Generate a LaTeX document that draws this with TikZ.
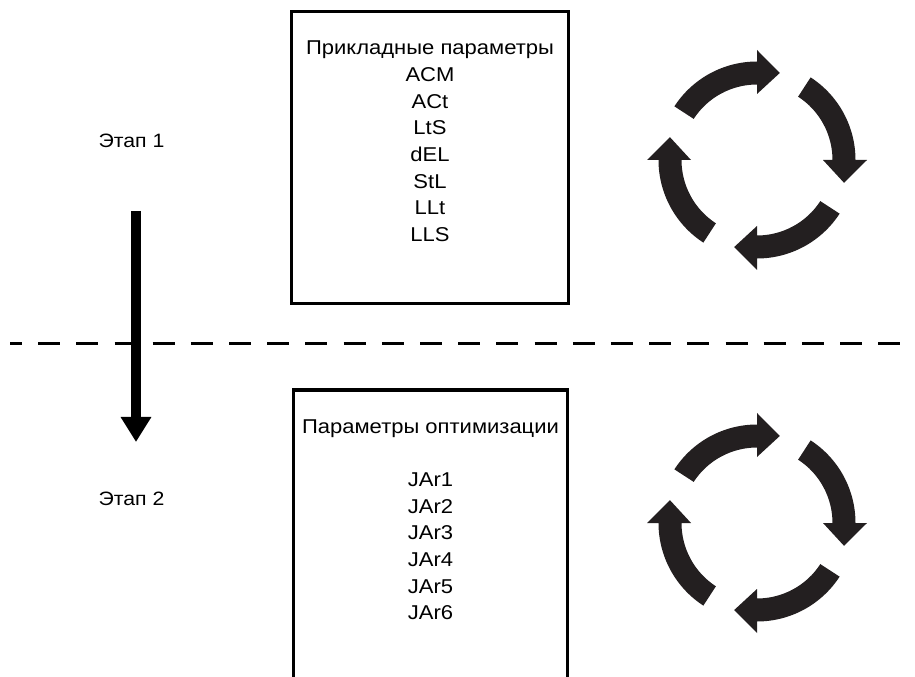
\documentclass[tikz,border=0pt]{standalone}
\usepackage{fontspec}
\setmainfont{Liberation Sans}[FakeStretch=1.1]
\usetikzlibrary{arrows.meta, positioning}

\tikzset{
  parambox/.style={draw=black, line width=2.5pt, inner sep=0pt, outer sep=0pt},
  paramtext/.style={font=\fontsize{15pt}{20pt}\selectfont, align=center, inner sep=0pt},
  stagelabel/.style={font=\fontsize{14.5pt}{20pt}\selectfont, inner sep=0pt, anchor=base},
  stageflow/.style={line width=7.5pt, -{Triangle[width=21.75pt, length=18.75pt]}},
  divider/.style={line width=2.25pt, dash pattern=on 16.5pt off 12.14pt, dash phase=7.5pt}
}

\begin{document}
\begin{tikzpicture}[x=0.75pt, y=0.75pt]

  % Colour of the cycle arrows
  \definecolor{cycleink}{HTML}{231F20}

  \useasboundingbox (0,0) rectangle (915,676);
  \clip (0,0) rectangle (915,676);

  % Divider between the stages
  \draw[divider] (10,332) -- (900,332);

  % Stage labels
  \node[stagelabel] (stageone) at (131.5,528) {Этап 1};
  \node[stagelabel] (stagetwo) at (131.5,171) {Этап 2};

  % Flow from stage 1 to stage 2
  \coordinate (flowtop) at (136,465);
  \coordinate (flowbot) at (136,234);
  \draw[stageflow] (flowtop) -- (flowbot);

  % --- Boxes ---
  % Applied parameters
  \node[parambox, minimum width=207.5pt, minimum height=218.75pt]
  (appbox) at (430,518.5) {};
  \node[paramtext, below=21.75pt of appbox.north] (apptext)
  {Прикладные параметры\\ACM\\ACt\\LtS\\dEL\\StL\\LLt\\LLS};

  % Optimisation parameters
  \node[parambox, minimum width=205.7pt, minimum height=247.5pt, anchor=north]
  (optbox) at (430.5,286) {};
  \node[paramtext, below=21.75pt of optbox.north] (opttext)
  {Параметры оптимизации\\ \\JAr1\\JAr2\\JAr3\\JAr4\\JAr5\\JAr6};

  % Cycle arrows
  \foreach \cy in {516,153}
  \foreach \r in {0,90,180,270}
  \fill[cycleink, shift={(757,\cy)}, rotate=\r]
  (147:98.5) arc[start angle=147, end angle=90, radius=98.5]
  -- (90:110) -- (75.3:90) -- (90:66) -- (90:75.5)
  arc[start angle=90, end angle=147, radius=75.5] -- cycle;

\end{tikzpicture}
\end{document}
